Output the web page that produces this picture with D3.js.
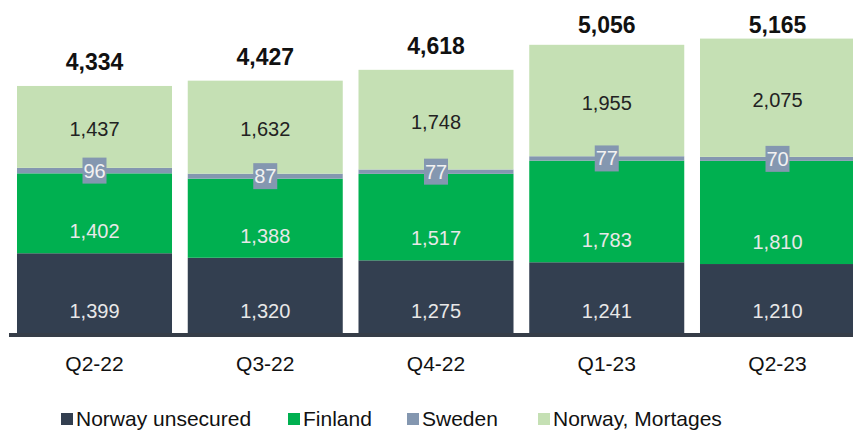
<html>
<script src='https://d3js.org/d3.v7.min.js'></script>
<style>
  body {margin:0; background:#fff;}
  text {font-family: 'Liberation Sans', Arial, sans-serif;}
</style>
<body onload='init()'>
<svg width=853 height=431></svg>

<script>
// quarters and the four portfolio series (NOK m)
var quarters = ['Q2-22', 'Q3-22', 'Q4-22', 'Q1-23', 'Q2-23'];
var norwayUnsecured = [1399, 1320, 1275, 1241, 1210];
var finland = [1402, 1388, 1517, 1783, 1810];
var sweden = [96, 87, 77, 77, 70];
var norwayMortgages = [1437, 1632, 1748, 1955, 2075];
var totals = [4334, 4427, 4618, 5056, 5165];

var seriesNames = ['Norway unsecured', 'Finland', 'Sweden', 'Norway, Mortages'];
var seriesColors = ['#333f50', '#00b050', '#8497b0', '#c5e0b4'];

function init() {
    var svg = d3.select('svg');
    var fmt = d3.format(',');

    var rows = quarters.map(function(q, i) {
        return {q: q, s0: norwayUnsecured[i], s1: finland[i], s2: sweden[i], s3: norwayMortgages[i], total: totals[i]};
    });
    var stack = d3.stack().keys(['s0', 's1', 's2', 's3'])(rows);

    // scales
    var pad = 0.0922;
    var x = d3.scaleBand().domain(quarters).range([9.125, 862.875]).paddingInner(pad).paddingOuter(pad / 2);
    var y = d3.scaleLinear().domain([0, 5842]).range([333, 0]);

    // bars
    var layers = svg.append('g').selectAll('g')
        .data(stack).enter().append('g')
        .attr('fill', function(d, i) { return seriesColors[i]; });

    layers.selectAll('rect')
        .data(function(d) { return d; })
        .enter().append('rect')
        .attr('x', function(d) { return x(d.data.q); })
        .attr('width', x.bandwidth())
        .attr('y', function(d) { return y(d[1]); })
        .attr('height', function(d) { return y(d[0]) - y(d[1]); });

    // baseline
    svg.append('rect')
        .attr('x', 9).attr('y', y(0)).attr('width', 853).attr('height', 4)
        .attr('fill', '#363d48');

    // labels for norway unsecured and finland, near segment base
    [0, 1].forEach(function(k) {
        svg.append('g').selectAll('text')
            .data(stack[k]).enter().append('text')
            .attr('x', function(d) { return x(d.data.q) + x.bandwidth() / 2; })
            .attr('y', function(d) { return y(d[0]) - 22; })
            .attr('dy', '0.35em')
            .attr('text-anchor', 'middle')
            .attr('font-size', 20)
            .attr('fill', '#e8e8e8')
            .text(function(d) { return fmt(d[1] - d[0]); });
    });

    // mortgages, centred
    svg.append('g').selectAll('text')
        .data(stack[3]).enter().append('text')
        .attr('x', function(d) { return x(d.data.q) + x.bandwidth() / 2; })
        .attr('y', function(d) { return (y(d[0]) + y(d[1])) / 2 + 2; })
        .attr('dy', '0.35em')
        .attr('text-anchor', 'middle')
        .attr('font-size', 20)
        .attr('fill', '#222')
        .text(function(d) { return fmt(d[1] - d[0]); });

    // sweden boxed labels
    var sw = svg.append('g').selectAll('g')
        .data(stack[2]).enter().append('g')
        .attr('transform', function(d) {
            return 'translate(' + (x(d.data.q) + x.bandwidth() / 2) + ',' + ((y(d[0]) + y(d[1])) / 2) + ')';
        });
    sw.append('rect')
        .attr('x', -12).attr('y', -13).attr('width', 24).attr('height', 26)
        .attr('fill', '#8497b0');
    sw.append('text')
        .attr('dy', '0.35em')
        .attr('text-anchor', 'middle')
        .attr('font-size', 20)
        .attr('fill', '#f2f2f2')
        .text(function(d) { return fmt(d[1] - d[0]); });

    // totals
    svg.append('g').selectAll('text')
        .data(rows).enter().append('text')
        .attr('x', function(d) { return x(d.q) + x.bandwidth() / 2; })
        .attr('y', function(d) { return Math.max(y(d.total) - 16, 33); })
        .attr('text-anchor', 'middle')
        .attr('font-size', 23)
        .attr('font-weight', 'bold')
        .attr('fill', '#111')
        .text(function(d) { return fmt(d.total); });

    // category axis
    var ax = svg.append('g')
        .attr('transform', 'translate(0,' + 371 + ')')
        .call(d3.axisBottom(x).tickSize(0).tickPadding(0));
    ax.select('.domain').remove();
    ax.selectAll('text')
        .attr('font-size', 21)
        .attr('fill', '#111')
        .attr('dy', 0)
        .style('font-family', "'Liberation Sans', Arial, sans-serif");

    // legend
    var legendX = [61, 288, 407, 538];
    var lg = svg.append('g').selectAll('g')
        .data(seriesNames).enter().append('g')
        .attr('transform', function(d, i) { return 'translate(' + legendX[i] + ',413)'; });
    lg.append('rect')
        .attr('width', 12).attr('height', 12)
        .attr('fill', function(d, i) { return seriesColors[i]; });
    lg.append('text')
        .attr('x', 15).attr('y', 13)
        .attr('font-size', 21)
        .attr('fill', '#111')
        .text(function(d) { return d; });
}
</script>
</body>
</html>
